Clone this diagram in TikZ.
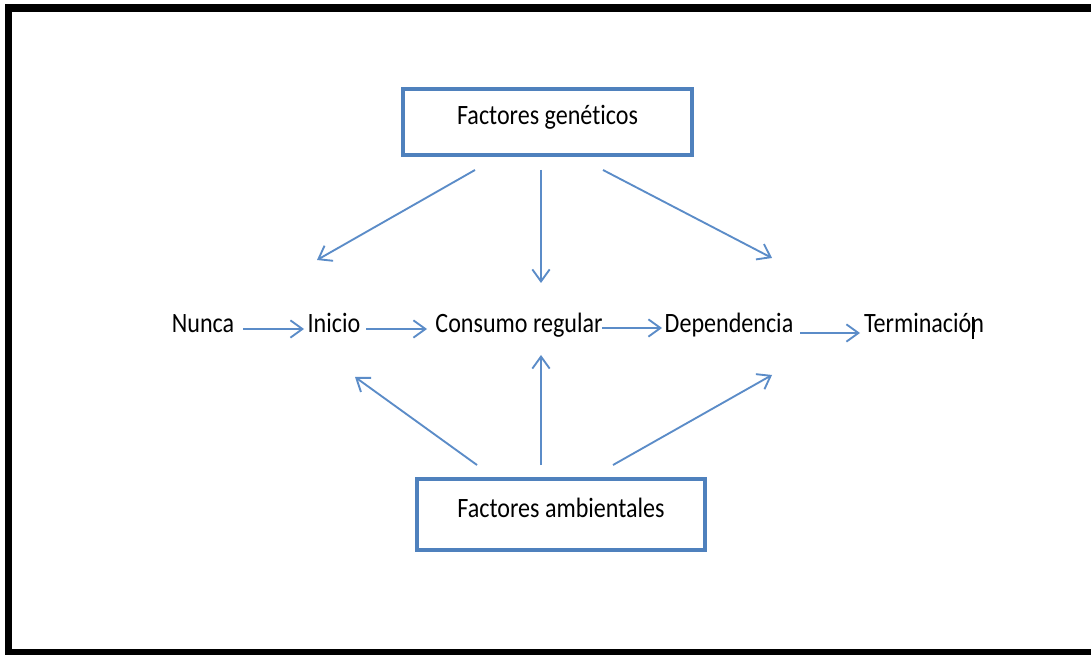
\documentclass[tikz,border=0pt]{standalone}
\usepackage{fontspec}
\setmainfont[Ligatures=CommonOff]{Carlito}
\usetikzlibrary{arrows.meta}
\definecolor{boxblue}{HTML}{4F81BD}
\definecolor{arrblue}{HTML}{5B8CC8}
\newcommand{\dgfont}{\fontsize{21}{23}\selectfont\addfontfeature{FakeStretch=0.86}}
\begin{document}
\begin{tikzpicture}[x=0.75pt,y=-0.75pt,
  txt/.style={inner sep=0pt,anchor=base,font=\dgfont},
  fbox/.style={draw=boxblue,line width=3pt,fill=white,inner sep=0pt,text height=9pt,text depth=4.5pt,font=\dgfont},
  arr/.style={draw=arrblue,line width=1.4pt,-{Straight Barb[length=9pt,width=13pt,line width=1.4pt]}}]
\useasboundingbox (0,0) rectangle (1091,655);
\fill[white] (0,0) rectangle (1091,655);
% frame
\fill[black] (5,4) rectangle (1091,12);
\fill[black] (5,4) rectangle (12,655);
\fill[black] (5,649) rectangle (1091,655);
% boxes
\node[fbox,minimum width=216.75pt,minimum height=49.5pt] (gen) at (547.5,122) {Factores genéticos};
\node[fbox,minimum width=216pt,minimum height=53.25pt] (amb) at (561,514.5) {Factores ambientales};
% stage words
\node[txt] (nunca) at (203,333) {Nunca};
\node[txt] (inicio) at (334,333) {Inicio};
\node[txt] (consumo) at (519,333) {Consumo regular};
\node[txt] (dep) at (729,333) {Dependencia};
\node[txt] (term) at (924,333) {Terminación};
% connector end points
\coordinate (g1s) at (475,170); \coordinate (g1e) at (317,260);
\coordinate (g2s) at (541,170); \coordinate (g2e) at (541,283);
\coordinate (g3s) at (603,170); \coordinate (g3e) at (772,258);
\coordinate (a1s) at (477,465); \coordinate (a1e) at (355,377);
\coordinate (a2s) at (541,465); \coordinate (a2e) at (541,355);
\coordinate (a3s) at (613,465); \coordinate (a3e) at (772,375);
\coordinate (m1s) at (243,329); \coordinate (m1e) at (304,329);
\coordinate (m2s) at (366,329); \coordinate (m2e) at (427,329);
\coordinate (m3s) at (602,328); \coordinate (m3e) at (662,328);
\coordinate (m4s) at (800,333); \coordinate (m4e) at (860,333);
\draw[arr] (g1s) -- (g1e);
\draw[arr] (g2s) -- (g2e);
\draw[arr] (g3s) -- (g3e);
\draw[arr] (a1s) -- (a1e);
\draw[arr] (a2s) -- (a2e);
\draw[arr] (a3s) -- (a3e);
\draw[arr] (m1s) -- (m1e);
\draw[arr] (m2s) -- (m2e);
\draw[arr] (m3s) -- (m3e);
\draw[arr] (m4s) -- (m4e);
% text cursor
\coordinate (cur1) at (973,317); \coordinate (cur2) at (973,339);
\draw[black,line width=1.5pt] (cur1) -- (cur2);
\end{tikzpicture}
\end{document}
